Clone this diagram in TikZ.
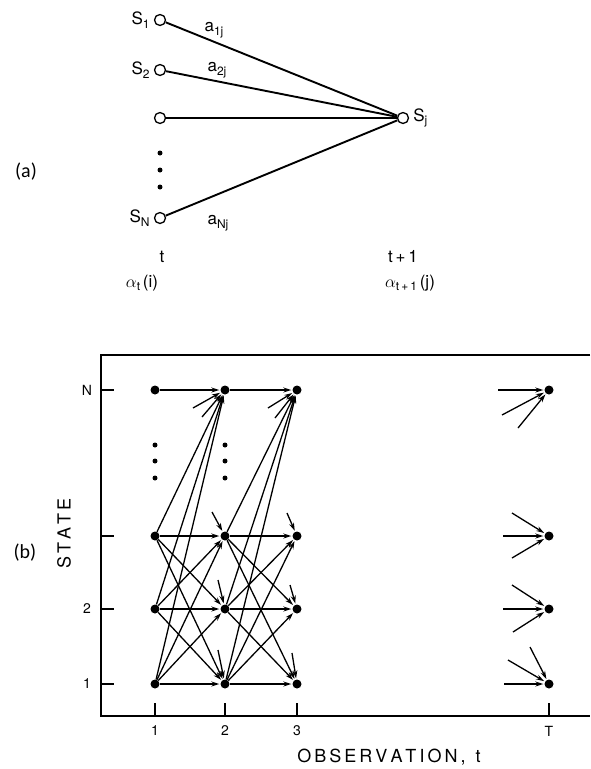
\documentclass[tikz,border=0pt]{standalone}
\usepackage{fontspec}
\setmainfont{TeX Gyre Heros}
\newfontfamily\capfont{Carlito}
\usetikzlibrary{positioning,arrows.meta}
\newcommand\lsub[1]{\raisebox{-0.4ex}{\fontsize{12}{14}\selectfont #1}}

\begin{document}
\begin{tikzpicture}[x=1pt,y=-1pt,
  open/.style={circle,draw,line width=1.3pt,fill=white,inner sep=0pt,minimum size=11pt},
  dot/.style={circle,fill,inner sep=0pt,minimum size=9pt},
  arr/.style={line width=1.3pt,-{Stealth[length=8pt,width=5pt]},shorten >=1pt},
  lbl/.style={font=\fontsize{17}{19}\selectfont,inner sep=1pt},
  ticklbl/.style={font=\fontsize{14}{16}\selectfont},
  axlbl/.style={font=\fontsize{18}{20}\selectfont}]
\useasboundingbox (0,0) rectangle (590,769);

% (a) one step of the forward recursion
\node[open] (s1) at (160,20) {};
\node[open] (s2) at (160,70) {};
\node[open] (s3) at (160,118) {};
\node[open] (sN) at (160,218) {};
\node[open] (sj) at (403,118) {};
\foreach \i in {s1,s2,s3,sN} \draw[line width=1.9pt] (\i) -- (sj);
\foreach \y in {153,170,187} \fill (160,\y) circle (2.5pt);
\node[lbl,left=3pt of s1] (ls1) {S\lsub{1}};
\node[lbl,left=3pt of s2] (ls2) {S\lsub{2}};
\node[lbl,left=3pt of sN] (lsN) {S\lsub{N}};
\node[lbl,right=3pt of sj] (lsj) {S\lsub{j}};
\node[lbl] (a1) at (214,30) {a\lsub{1j}};
\node[lbl] (a2) at (217,70) {a\lsub{2j}};
\node[lbl] (aN) at (218,223) {a\lsub{Nj}};
\node[lbl] (tt) at (162,257) {t};
\node[lbl] (at) at (142,283) {$\alpha$\lsub{t}\,(i)};
\node[lbl] (tt1) at (403,257) {t\,+\,1};
\node[lbl] (at1) at (410,283) {$\alpha$\lsub{t\,+\,1}\,(j)};
\node[font=\capfont\fontsize{20}{22}\selectfont] (capa) at (26,172) {(a)};

% (b) lattice
\draw[line width=1.5pt] (590,355) -- (101,355) -- (101,716) -- (590,716);
\foreach \r/\y in {1/684,2/609,3/536,N/390} \draw[line width=1.2pt] (101,\y) -- (114,\y);
\foreach \x in {155,225,297,549} \draw[line width=1.2pt] (\x,716) -- (\x,703);
\node[ticklbl] (yN) at (87,390) {N};
\node[ticklbl] (y2) at (87,609) {2};
\node[ticklbl] (y1) at (87,684) {1};
\foreach \c/\x in {1/155,2/225,3/297,T/549} {
  \node[ticklbl] (x\c) at (\x,731) {\c};
  \foreach \r/\y in {1/684,2/609,3/536,N/390} \node[dot] (n\c\r) at (\x,\y) {};
}
\node[axlbl,rotate=90] (state) at (64,533) {S\,T\,A\,T\,E};
\node[axlbl] (obs) at (389,757) {O\,B\,S\,E\,R\,V\,A\,T\,I\,O\,N\,,\ \ t};
\node[font=\capfont\fontsize{20}{22}\selectfont] (capb) at (25,553) {(b)};
\foreach \x in {155,225} \foreach \y in {445,461,478} \fill (\x,\y) circle (2.5pt);

\foreach \a/\b in {1/2,2/3} {
  \draw[arr] (n\a N) -- (n\b N);
  \foreach \i in {1,2,3} \foreach \j in {1,2,3,N} \draw[arr] (n\a\i) -- (n\b\j);
}
% stubs from states not shown
\foreach \n/\x/\y [count=\k] in {n2N/193/408, n2N/202/417, n23/212/512, n22/218/580, n21/218/650,
    n3N/268/408, n3N/275/418, n33/287/513, n32/290/585, n31/292/653,
    nTN/498/390, nTN/502/415, nTN/518/428, nT3/503/536, nT3/512/513, nT3/512/558,
    nT2/503/609, nT2/512/585, nT2/513/632, nT1/504/684, nT1/508/660, nT1/530/647} {
  \coordinate (u\k) at (\x,\y);
  \draw[arr] (u\k) -- (\n);
}
\end{tikzpicture}
\end{document}
